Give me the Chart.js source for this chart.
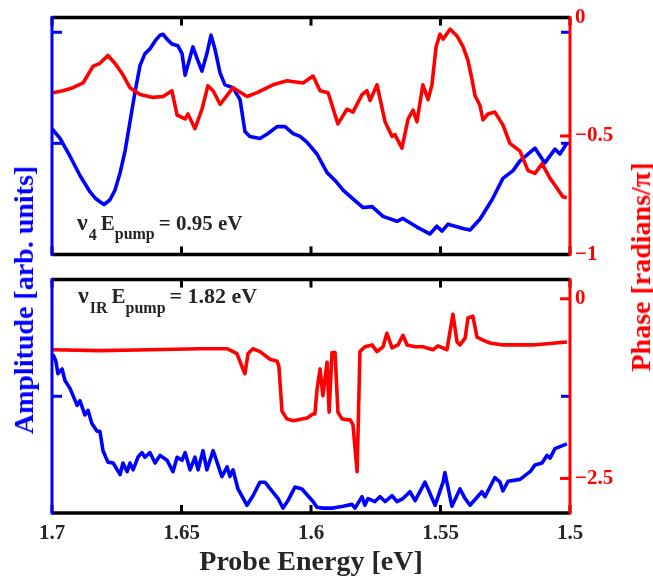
<!DOCTYPE html>
<html><head><meta charset="utf-8">
<script src="https://cdn.jsdelivr.net/npm/chart.js@4/dist/chart.umd.min.js"></script>
<style>
html,body{margin:0;padding:0;background:#fff;}
#wrap{position:relative;width:653px;height:582px;overflow:hidden;background:#fff;}
canvas{position:absolute;left:0;}
#c1{top:0;}
#c2{top:262px;}
.vt{position:absolute;font-family:'Liberation Serif','Times New Roman',serif;font-weight:bold;font-size:28px;white-space:nowrap;line-height:1;}
</style></head><body>
<div id="wrap">
<canvas id="c1" width="653" height="272" style="width:653px;height:272px"></canvas>
<canvas id="c2" width="653" height="320" style="width:653px;height:320px"></canvas>
<div class="vt" id="ampT" style="color:#0000ff;left:24px;top:300px;transform:translate(-50%,-50%) rotate(-90deg)">Amplitude [arb. units]</div>
<div class="vt" id="phT" style="color:#ff0000;left:641px;top:267px;transform:translate(-50%,-50%) rotate(-90deg)">Phase [radians/π]</div>
</div>
<script>
// ---------- data (probe energy in eV) ----------
const xTicks = [1.7, 1.65, 1.6, 1.55, 1.5];
const xTickLabels = ['1.7', '1.65', '1.6', '1.55', '1.5'];
const ampTopTicks = [0.5, 1];
const phaseTopTicks = [0, -0.5, -1];
const ampBotTicks = [0.5];
const phaseBotTicks = [0, -2.5];

// top panel: nu4, Epump = 0.95 eV
const ampTopE = [1.7000,1.6969,1.6931,1.6892,1.6853,1.6834,1.6815,1.6799,1.6776,1.6757,1.6737,1.6718,1.6699,1.6680,1.6660,1.6641,1.6622,1.6602,1.6583,1.6571,1.6556,1.6537,1.6514,1.6498,1.6486,1.6456,1.6440,1.6421,1.6402,1.6386,1.6371,1.6351,1.6332,1.6301,1.6274,1.6255,1.6236,1.6197,1.6166,1.6131,1.6100,1.6069,1.6042,1.6015,1.5977,1.5938,1.5907,1.5876,1.5838,1.5799,1.5764,1.5722,1.5668,1.5645,1.5591,1.5541,1.5514,1.5494,1.5471,1.5417,1.5386,1.5348,1.5301,1.5259,1.5220,1.5193,1.5135,1.5097,1.5058,1.5039,1.5012];
const ampTopV = [0.566,0.522,0.443,0.355,0.281,0.254,0.237,0.224,0.246,0.289,0.368,0.465,0.596,0.728,0.851,0.904,0.925,0.961,0.987,0.991,0.969,0.947,0.939,0.904,0.807,0.934,0.882,0.825,0.904,0.987,0.925,0.816,0.763,0.750,0.697,0.553,0.531,0.522,0.544,0.575,0.575,0.544,0.531,0.504,0.452,0.368,0.333,0.289,0.250,0.211,0.215,0.171,0.149,0.162,0.123,0.092,0.127,0.105,0.136,0.118,0.110,0.158,0.246,0.342,0.377,0.421,0.478,0.412,0.474,0.452,0.500];
const phTopE = [1.6996,1.6958,1.6919,1.6880,1.6842,1.6815,1.6784,1.6757,1.6730,1.6699,1.6660,1.6610,1.6571,1.6537,1.6517,1.6486,1.6475,1.6448,1.6421,1.6398,1.6378,1.6351,1.6301,1.6247,1.6208,1.6147,1.6093,1.6031,1.5992,1.5965,1.5934,1.5896,1.5861,1.5838,1.5803,1.5784,1.5772,1.5745,1.5714,1.5687,1.5676,1.5649,1.5625,1.5606,1.5591,1.5568,1.5548,1.5533,1.5517,1.5502,1.5490,1.5463,1.5436,1.5413,1.5394,1.5378,1.5367,1.5348,1.5336,1.5317,1.5290,1.5259,1.5232,1.5193,1.5162,1.5135,1.5108,1.5077,1.5058,1.5027,1.5012];
const phTopV = [-0.317,-0.309,-0.296,-0.276,-0.206,-0.193,-0.160,-0.193,-0.235,-0.296,-0.325,-0.337,-0.333,-0.309,-0.412,-0.428,-0.407,-0.469,-0.387,-0.288,-0.309,-0.366,-0.296,-0.333,-0.317,-0.284,-0.267,-0.276,-0.247,-0.309,-0.317,-0.449,-0.387,-0.399,-0.325,-0.309,-0.350,-0.284,-0.440,-0.502,-0.494,-0.551,-0.428,-0.391,-0.440,-0.284,-0.346,-0.284,-0.123,-0.070,-0.091,-0.049,-0.078,-0.123,-0.181,-0.263,-0.329,-0.370,-0.432,-0.407,-0.399,-0.453,-0.531,-0.564,-0.646,-0.658,-0.617,-0.679,-0.708,-0.757,-0.761];

// bottom panel: nu_IR, Epump = 1.82 eV
const ampBotE = [1.6996,1.6985,1.6977,1.6961,1.6950,1.6931,1.6903,1.6892,1.6873,1.6861,1.6846,1.6826,1.6815,1.6803,1.6784,1.6764,1.6737,1.6726,1.6710,1.6699,1.6687,1.6668,1.6653,1.6641,1.6622,1.6602,1.6583,1.6556,1.6533,1.6517,1.6498,1.6486,1.6467,1.6448,1.6436,1.6417,1.6402,1.6378,1.6344,1.6324,1.6313,1.6301,1.6282,1.6247,1.6224,1.6197,1.6178,1.6151,1.6127,1.6108,1.6089,1.6062,1.6035,1.6012,1.5992,1.5977,1.5954,1.5915,1.5876,1.5842,1.5830,1.5803,1.5792,1.5780,1.5753,1.5734,1.5714,1.5687,1.5668,1.5645,1.5618,1.5598,1.5560,1.5548,1.5521,1.5490,1.5483,1.5456,1.5425,1.5405,1.5386,1.5340,1.5328,1.5290,1.5270,1.5259,1.5239,1.5193,1.5154,1.5135,1.5108,1.5089,1.5077,1.5058,1.5012];
const ampBotV = [0.679,0.650,0.597,0.617,0.568,0.535,0.461,0.481,0.420,0.440,0.383,0.350,0.350,0.267,0.218,0.214,0.165,0.214,0.177,0.214,0.185,0.239,0.259,0.239,0.259,0.214,0.247,0.226,0.177,0.239,0.226,0.259,0.185,0.239,0.185,0.267,0.185,0.267,0.156,0.198,0.156,0.185,0.103,0.033,0.074,0.132,0.132,0.095,0.062,0.021,0.053,0.111,0.103,0.074,0.049,0.025,0.021,0.021,0.029,0.037,0.021,0.070,0.033,0.062,0.049,0.070,0.049,0.074,0.049,0.062,0.091,0.053,0.132,0.103,0.033,0.132,0.173,0.029,0.103,0.062,0.033,0.091,0.070,0.152,0.132,0.095,0.136,0.144,0.177,0.206,0.214,0.247,0.235,0.276,0.296];
const phBotE = [1.6996,1.6815,1.6622,1.6429,1.6324,1.6286,1.6263,1.6255,1.6243,1.6224,1.6197,1.6158,1.6131,1.6124,1.6112,1.6093,1.6069,1.6015,1.5992,1.5985,1.5977,1.5965,1.5954,1.5938,1.5930,1.5919,1.5907,1.5896,1.5880,1.5861,1.5849,1.5838,1.5822,1.5811,1.5792,1.5764,1.5745,1.5722,1.5707,1.5687,1.5664,1.5645,1.5629,1.5598,1.5568,1.5529,1.5510,1.5475,1.5452,1.5436,1.5425,1.5405,1.5394,1.5375,1.5359,1.5336,1.5309,1.5259,1.5143,1.5012];
const phBotV = [-0.709,-0.722,-0.709,-0.695,-0.695,-0.762,-0.976,-1.043,-0.762,-0.695,-0.735,-0.842,-0.869,-0.936,-1.564,-1.671,-1.698,-1.658,-1.604,-1.604,-1.270,-0.976,-1.350,-0.882,-1.578,-0.749,-0.749,-1.578,-1.671,-1.684,-1.684,-1.751,-2.406,-0.735,-0.668,-0.642,-0.735,-0.668,-0.481,-0.682,-0.642,-0.508,-0.642,-0.668,-0.668,-0.709,-0.655,-0.709,-0.214,-0.602,-0.642,-0.548,-0.267,-0.241,-0.535,-0.575,-0.615,-0.642,-0.642,-0.602];

// ---------- drawing ----------
const BLUE = '#0000ff', RED = '#ff0000', TXT = '#262626';
const FONT = "'Liberation Serif','Times New Roman',serif";
const pairs = (xs, ys) => xs.map((x, i) => ({x, y: ys[i]}));
const minus = v => (v < 0 ? '\u2212' + Math.abs(v) : String(Math.abs(v)));

const framePlugin = {
  id: 'frame',
  afterDatasetsDraw(chart) {
    const {ctx, chartArea: a, scales} = chart;
    const ln = (x1, y1, x2, y2) => { ctx.beginPath(); ctx.moveTo(x1, y1); ctx.lineTo(x2, y2); ctx.stroke(); };
    ctx.save();
    ctx.lineWidth = 3; ctx.lineCap = 'butt';
    ctx.strokeStyle = '#000';
    scales.x.ticks.forEach(t => { const p = scales.x.getPixelForValue(t.value); ln(p, a.top, p, a.top + 8); ln(p, a.bottom, p, a.bottom - 8); });
    ctx.strokeStyle = BLUE;
    scales.yA.ticks.forEach(t => { const p = scales.yA.getPixelForValue(t.value); ln(a.left, p, a.left + 10, p); ln(a.right, p, a.right - 9, p); });
    ctx.strokeStyle = RED;
    scales.yP.ticks.forEach(t => { const p = scales.yP.getPixelForValue(t.value); ln(a.right, p, a.right - 10, p); });
    ctx.lineWidth = 3.5;
    ctx.strokeStyle = '#000';
    ln(a.left, a.top, a.right, a.top);
    ln(a.left, a.bottom, a.right, a.bottom);
    ctx.lineWidth = 3;
    ctx.strokeStyle = BLUE; ln(a.left, a.top - 1.5, a.left, a.bottom + 1.5);
    ctx.strokeStyle = RED; ln(a.right, a.top - 1.5, a.right, a.bottom + 1.5);
    // annotation text
    const ann = chart.options.plugins.frame.ann;
    if (ann) {
      let x = ann.x;
      ctx.fillStyle = TXT; ctx.textBaseline = 'alphabetic'; ctx.textAlign = 'left';
      ann.parts.forEach(p => {
        ctx.font = 'bold ' + p.s + 'px ' + FONT;
        ctx.fillText(p.t, x, ann.y + (p.dy || 0));
        x += ctx.measureText(p.t).width + (p.gap || 0);
      });
    }
    ctx.restore();
  }
};

function makeChart(id, cfg) {
  const yAfit = s => { s.width = 52; };
  const yPfit = s => { s.width = 83; };
  return new Chart(document.getElementById(id), {
    type: 'line',
    data: { datasets: [
      { data: pairs(cfg.phE, cfg.phV), yAxisID: 'yP', borderColor: RED, borderWidth: 3.6, pointRadius: 0, tension: 0, borderJoinStyle: 'round' },
      { data: pairs(cfg.ampE, cfg.ampV), yAxisID: 'yA', borderColor: BLUE, borderWidth: 3.6, pointRadius: 0, tension: 0, borderJoinStyle: 'round' }
    ]},
    options: {
      responsive: false, animation: false, devicePixelRatio: 1,
      layout: { padding: { top: cfg.padTop, left: 0, right: 0, bottom: 0 } },
      plugins: { legend: { display: false }, tooltip: { enabled: false }, frame: { ann: cfg.ann } },
      scales: {
        x: {
          type: 'linear', min: 1.5, max: 1.7, reverse: true,
          afterBuildTicks: s => { s.ticks = xTicks.map(v => ({value: v})); },
          afterFit: s => { s.height = cfg.xH; },
          grid: { display: false, drawTicks: false }, border: { display: false },
          ticks: { display: cfg.xLabels, padding: 8, color: TXT, font: { family: FONT, weight: 'bold', size: 21 },
                   callback: (v) => xTickLabels[xTicks.indexOf(v)] },
          title: { display: cfg.xLabels, text: 'Probe Energy [eV]', color: TXT, padding: { top: 0, bottom: 2 },
                   font: { family: FONT, weight: 'bold', size: 28 } }
        },
        yA: {
          type: 'linear', position: 'left', min: 0, max: cfg.ampMax,
          afterBuildTicks: s => { s.ticks = cfg.ampTicks.map(v => ({value: v})); },
          afterFit: yAfit,
          grid: { display: false, drawTicks: false }, border: { display: false },
          ticks: { display: false }
        },
        yP: {
          type: 'linear', position: 'right', min: cfg.phMin, max: cfg.phMax,
          afterBuildTicks: s => { s.ticks = cfg.phTicks.map(v => ({value: v})); },
          afterFit: yPfit,
          grid: { display: false, drawTicks: false }, border: { display: false },
          ticks: { padding: 5, color: RED, font: { family: FONT, weight: 'bold', size: 21 }, callback: v => minus(v) }
        }
      }
    },
    plugins: [framePlugin]
  });
}

makeChart('c1', {
  phE: phTopE, phV: phTopV, ampE: ampTopE, ampV: ampTopV,
  padTop: 13, xH: 16, xLabels: false,
  ampMax: 1.066, ampTicks: ampTopTicks,
  phMin: -1, phMax: 0, phTicks: phaseTopTicks,
  ann: { x: 77, y: 230, parts: [
    {t: '\u03bd', s: 24, gap: 1}, {t: '4', s: 16, dy: 10, gap: 4},
    {t: 'E', s: 21}, {t: 'pump', s: 16, dy: 9, gap: 4}, {t: '= 0.95 eV', s: 21}
  ]}
});

makeChart('c2', {
  phE: phBotE, phV: phBotV, ampE: ampBotE, ampV: ampBotV,
  padTop: 8, xH: 69, xLabels: true,
  ampMax: 1, ampTicks: ampBotTicks,
  phMin: -2.981, phMax: 0.267, phTicks: phaseBotTicks,
  ann: { x: 78, y: 41, parts: [
    {t: '\u03bd', s: 24, gap: 1}, {t: 'IR', s: 16, dy: 10, gap: 4},
    {t: 'E', s: 21}, {t: 'pump', s: 16, dy: 10, gap: 4}, {t: '= 1.82 eV', s: 22}
  ]}
});
</script>
</body></html>
